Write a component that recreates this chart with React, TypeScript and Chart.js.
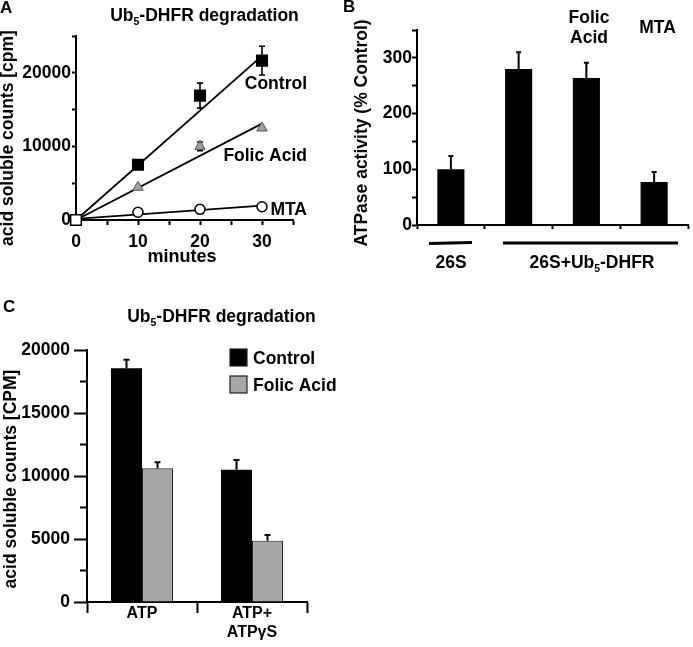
import React, { useEffect, useRef } from "react";
import { Chart, registerables } from "chart.js";

Chart.register(...registerables);

const W = 693;
const H = 647;
const FONT = '"Liberation Sans", Arial, Helvetica, sans-serif';

// ---------- Panel A : Ub5-DHFR degradation time course ----------
const aMinutes = [0, 10, 20, 30];
const aControl = [0, 7500, 16900, 21650];
const aControlErr = [0, 0, 1700, 1950];
const aFolicMinutes = [10, 20, 30];
const aFolic = [4450, 10000, 12500];
const aFolicErr = [0, 600, 0];
const aMtaMinutes = [10, 20, 30];
const aMta = [1050, 1450, 1800];
const aFitMinutes = [0, 30];
const aControlFit = [0, 22300];
const aFolicFit = [0, 13100];
const aMtaFit = [150, 1950];
const aSeries = ["Control", "Folic Acid", "MTA"];

// ---------- Panel B : ATPase activity ----------
const bCategories = ["26S", "26S+Ub5-DHFR", "Folic Acid", "MTA"];
const bActivity = [100, 280, 264, 77];
const bErr = [24, 30, 27, 18];

// ---------- Panel C : degradation with ATP / ATPγS ----------
const cCategories = ["ATP", "ATP+ ATPγS"];
const cSeries = ["Control", "Folic Acid"];
const cControl = [18550, 10500];
const cControlErr = [680, 760];
const cFolic = [10620, 4870];
const cFolicErr = [470, 450];

Chart.defaults.font.family = FONT;
Chart.defaults.font.weight = "bold";
Chart.defaults.font.size = 17;
Chart.defaults.color = "#000";

type Part = { t: string; sub?: boolean };
type TextItem = {
  parts: Part[];
  x: number;
  y: number;
  size?: number;
  align?: "left" | "center" | "right";
  rot?: number;
};

const T = (s: string): Part[] => [{ t: s }];
const UB5 = (before: string, after: string): Part[] => [
  { t: before + "Ub" },
  { t: "5", sub: true },
  { t: after },
];

function drawText(ctx: CanvasRenderingContext2D, it: TextItem) {
  const size = it.size ?? 17.5;
  const subSize = size * 0.6;
  ctx.save();
  ctx.translate(it.x, it.y);
  if (it.rot) ctx.rotate(it.rot);
  ctx.fillStyle = "#000";
  ctx.textBaseline = "alphabetic";
  ctx.textAlign = "left";
  const widths = it.parts.map((p) => {
    ctx.font = `bold ${p.sub ? subSize : size}px ${FONT}`;
    return ctx.measureText(p.t).width;
  });
  const total = widths.reduce((a, b) => a + b, 0);
  let x = it.align === "center" ? -total / 2 : it.align === "right" ? -total : 0;
  it.parts.forEach((p, i) => {
    ctx.font = `bold ${p.sub ? subSize : size}px ${FONT}`;
    ctx.fillText(p.t, x, p.sub ? size * 0.25 : 0);
    x += widths[i];
  });
  ctx.restore();
}

function textPlugin(id: string, items: TextItem[], extra?: (c: Chart) => void) {
  return {
    id,
    afterDraw(chart: Chart) {
      const ctx = chart.ctx;
      items.forEach((it) => drawText(ctx, it));
      if (extra) extra(chart);
    },
  };
}

type ErrSet = { ds: number; err: number[]; both?: boolean; width: number; cap: number };
function errorBars(id: string, sets: ErrSet[], before: boolean) {
  const draw = (chart: Chart) => {
    const ctx = chart.ctx;
    const ys = chart.scales.y;
    ctx.save();
    ctx.strokeStyle = "#000";
    sets.forEach((s) => {
      const meta = chart.getDatasetMeta(s.ds);
      const data = chart.data.datasets[s.ds].data as any[];
      meta.data.forEach((el: any, i: number) => {
        const e = s.err[i];
        if (!e) return;
        const raw = data[i];
        const v = typeof raw === "number" ? raw : raw.y;
        const top = ys.getPixelForValue(v + e);
        const bot = s.both ? ys.getPixelForValue(v - e) : el.y;
        ctx.lineWidth = s.width;
        ctx.beginPath();
        ctx.moveTo(el.x, bot);
        ctx.lineTo(el.x, top);
        ctx.moveTo(el.x - s.cap / 2, top);
        ctx.lineTo(el.x + s.cap / 2, top);
        if (s.both) {
          ctx.moveTo(el.x - s.cap / 2, bot);
          ctx.lineTo(el.x + s.cap / 2, bot);
        }
        ctx.stroke();
      });
    });
    ctx.restore();
  };
  return before ? { id, beforeDatasetsDraw: draw } : { id, afterDatasetsDraw: draw };
}

type Area = { l: number; t: number; r: number; b: number };
function padFor(a: Area, yW: number, xH: number) {
  return { left: a.l - yW, top: a.t, right: W - a.r, bottom: H - a.b - xH };
}

const axisGrid = (tickLength: number, offset = false) => ({
  display: true,
  drawOnChartArea: false,
  drawTicks: true,
  tickLength,
  tickColor: "#000",
  tickWidth: 2,
  offset,
});
const axisBorder = { display: true, color: "#000", width: 2 };

function makeA(canvas: HTMLCanvasElement) {
  const area: Area = { l: 76, t: 36, r: 293, b: 220 };
  const yW = 76;
  const xH = 40;
  const pts = (xs: number[], ys: number[]) => xs.map((x, i) => ({ x, y: ys[i] }));
  return new Chart(canvas, {
    type: "scatter",
    data: {
      datasets: [
        {
          label: aSeries[0],
          data: pts(aMinutes, aControl),
          pointStyle: "rect",
          pointRadius: 7.5,
          pointBackgroundColor: ["#fff", "#000", "#000", "#000"],
          pointBorderColor: "#000",
          pointBorderWidth: 1.5,
          clip: false,
        },
        {
          label: aSeries[1],
          data: pts(aFolicMinutes, aFolic),
          pointStyle: "triangle",
          pointRadius: 6,
          pointBackgroundColor: "#a0a0a0",
          pointBorderColor: "#555",
          pointBorderWidth: 1,
          clip: false,
        },
        {
          label: aSeries[2],
          data: pts(aMtaMinutes, aMta),
          pointStyle: "circle",
          pointRadius: 5,
          pointBackgroundColor: "#fff",
          pointBorderColor: "#000",
          pointBorderWidth: 1.5,
          clip: false,
        },
        {
          label: "Control fit",
          data: pts(aFitMinutes, aControlFit),
          showLine: true,
          pointRadius: 0,
          borderColor: "#000",
          borderWidth: 1.8,
          clip: false,
        },
        {
          label: "Folic Acid fit",
          data: pts(aFitMinutes, aFolicFit),
          showLine: true,
          pointRadius: 0,
          borderColor: "#000",
          borderWidth: 1.8,
          clip: false,
        },
        {
          label: "MTA fit",
          data: pts(aFitMinutes, aMtaFit),
          showLine: true,
          pointRadius: 0,
          borderColor: "#000",
          borderWidth: 1.8,
          clip: false,
        },
      ],
    },
    options: {
      responsive: false,
      animation: false,
      devicePixelRatio: 1,
      layout: { padding: padFor(area, yW, xH) },
      plugins: { legend: { display: false }, tooltip: { enabled: false } },
      scales: {
        x: {
          type: "linear",
          min: 0,
          max: 35,
          ticks: {
            stepSize: 5,
            autoSkip: false,
            maxRotation: 0,
            padding: 7,
            font: { size: 17.5, weight: "bold" },
            callback: (v: any) => (Number(v) % 10 === 0 ? String(v) : ""),
          },
          grid: axisGrid(5),
          border: axisBorder,
          afterFit: (s: any) => {
            s.height = xH;
          },
        },
        y: {
          type: "linear",
          min: 0,
          max: 25000,
          ticks: {
            stepSize: 5000,
            autoSkip: false,
            padding: 1,
            font: { size: 17.5, weight: "bold" },
            callback: (v: any) => (Number(v) % 10000 === 0 ? String(v) : ""),
          },
          grid: axisGrid(4),
          border: axisBorder,
          afterFit: (s: any) => {
            s.width = yW;
          },
        },
      },
    },
    plugins: [
      errorBars(
        "errA",
        [
          { ds: 0, err: aControlErr, both: true, width: 1.6, cap: 6 },
          { ds: 1, err: aFolicErr, both: true, width: 1.6, cap: 6 },
        ],
        true
      ),
      textPlugin("textA", [
        { parts: T("A"), x: 0, y: 12.5, size: 17 },
        { parts: UB5("", "-DHFR degradation"), x: 204.5, y: 21, align: "center" },
        { parts: T(aSeries[0]), x: 307, y: 89, align: "right" },
        { parts: T(aSeries[1]), x: 307, y: 161, align: "right" },
        { parts: T(aSeries[2]), x: 307, y: 215, align: "right" },
        { parts: T("acid soluble counts [cpm]"), x: 13, y: 138, align: "center", rot: -Math.PI / 2, size: 17.5 },
        { parts: T("minutes"), x: 182, y: 262, align: "center", size: 18 },
      ]),
    ],
  } as any);
}

function makeB(canvas: HTMLCanvasElement) {
  const area: Area = { l: 417, t: 30, r: 688, b: 225 };
  const yW = 40;
  const xH = 10;
  return new Chart(canvas, {
    type: "bar",
    data: {
      labels: bCategories,
      datasets: [
        {
          label: "ATPase activity",
          data: bActivity,
          backgroundColor: "#000",
          borderWidth: 0,
          barPercentage: 0.4,
          categoryPercentage: 1,
        },
      ],
    },
    options: {
      responsive: false,
      animation: false,
      devicePixelRatio: 1,
      layout: { padding: padFor(area, yW, xH) },
      plugins: { legend: { display: false }, tooltip: { enabled: false } },
      scales: {
        x: {
          type: "category",
          offset: true,
          ticks: { display: false },
          grid: axisGrid(4, true),
          border: axisBorder,
          afterFit: (s: any) => {
            s.height = xH;
          },
        },
        y: {
          type: "linear",
          min: 0,
          max: 350,
          ticks: {
            stepSize: 50,
            autoSkip: false,
            padding: 0,
            font: { size: 17.5, weight: "bold" },
            callback: (v: any) => (Number(v) % 100 === 0 ? String(v) : ""),
          },
          grid: axisGrid(5),
          border: axisBorder,
          afterFit: (s: any) => {
            s.width = yW;
          },
        },
      },
    },
    plugins: [
      errorBars("errB", [{ ds: 0, err: bErr, width: 2, cap: 5 }], false),
      textPlugin(
        "textB",
        [
          { parts: T("B"), x: 343, y: 11.5, size: 17 },
          { parts: T("Folic"), x: 589, y: 23, align: "center" },
          { parts: T("Acid"), x: 589, y: 43, align: "center" },
          { parts: T(bCategories[3]), x: 657.5, y: 33, align: "center" },
          { parts: T("ATPase activity (% Control)"), x: 367, y: 133, align: "center", rot: -Math.PI / 2, size: 17.5 },
          { parts: T(bCategories[0]), x: 451, y: 268, align: "center" },
          { parts: UB5("26S+", "-DHFR"), x: 592, y: 268, align: "center" },
        ],
        (chart) => {
          const ctx = chart.ctx;
          ctx.save();
          ctx.strokeStyle = "#000";
          ctx.lineWidth = 3;
          ctx.beginPath();
          ctx.moveTo(429, 243.5);
          ctx.lineTo(472, 242.5);
          ctx.moveTo(503, 243);
          ctx.lineTo(678, 243);
          ctx.stroke();
          ctx.restore();
        }
      ),
    ],
  } as any);
}

function makeC(canvas: HTMLCanvasElement) {
  const area: Area = { l: 87, t: 350, r: 307, b: 602 };
  const yW = 70;
  const xH = 45;
  return new Chart(canvas, {
    type: "bar",
    data: {
      labels: cCategories,
      datasets: [
        {
          label: cSeries[0],
          data: cControl,
          backgroundColor: "#000",
          borderColor: "#000",
          borderWidth: 0,
          barPercentage: 1,
          categoryPercentage: 0.564,
        },
        {
          label: cSeries[1],
          data: cFolic,
          backgroundColor: "#a6a6a6",
          borderColor: "#222",
          borderWidth: 1.2,
          barPercentage: 1,
          categoryPercentage: 0.564,
        },
      ],
    },
    options: {
      responsive: false,
      animation: false,
      devicePixelRatio: 1,
      layout: { padding: padFor(area, yW, xH) },
      plugins: { legend: { display: false }, tooltip: { enabled: false } },
      scales: {
        x: {
          type: "category",
          offset: true,
          ticks: {
            padding: -9,
            font: { size: 16, weight: "bold" },
            maxRotation: 0,
            autoSkip: false,
            callback: (_v: any, i: number) => cCategories[i].split(" "),
          },
          grid: axisGrid(11, true),
          border: axisBorder,
          afterFit: (s: any) => {
            s.height = xH;
          },
        },
        y: {
          type: "linear",
          min: 0,
          max: 20000,
          ticks: {
            stepSize: 5000,
            autoSkip: false,
            padding: 4,
            font: { size: 17.5, weight: "bold" },
            callback: (v: any) => String(v),
          },
          grid: axisGrid(13),
          border: axisBorder,
          afterFit: (s: any) => {
            s.width = yW;
          },
        },
      },
    },
    plugins: [
      errorBars(
        "errC",
        [
          { ds: 0, err: cControlErr, width: 2, cap: 6 },
          { ds: 1, err: cFolicErr, width: 2, cap: 6 },
        ],
        false
      ),
      textPlugin(
        "textC",
        [
          { parts: T("C"), x: 3, y: 312, size: 17 },
          { parts: UB5("", "-DHFR degradation"), x: 221.5, y: 322, align: "center" },
          { parts: T("acid soluble counts [CPM]"), x: 16, y: 479, align: "center", rot: -Math.PI / 2, size: 17.5 },
        ],
        (chart) => {
          const ctx = chart.ctx;
          // minor ticks on y axis
          const ys = chart.scales.y as any;
          ctx.save();
          ctx.strokeStyle = "#000";
          ctx.lineWidth = 2;
          ctx.beginPath();
          for (let v = ys.min + 2500; v < ys.max; v += 5000) {
            const y = ys.getPixelForValue(v);
            ctx.moveTo(ys.right - 7, y);
            ctx.lineTo(ys.right, y);
          }
          ctx.stroke();
          // legend
          const boxes = [349, 376];
          chart.data.datasets.forEach((ds: any, i: number) => {
            ctx.fillStyle = ds.backgroundColor;
            ctx.fillRect(230, boxes[i], 17, 17);
            ctx.strokeStyle = "#222";
            ctx.lineWidth = 1.2;
            ctx.strokeRect(230, boxes[i], 17, 17);
            drawText(ctx, { parts: T(ds.label), x: 253, y: boxes[i] + 14.5 });
          });
          ctx.restore();
        }
      ),
    ],
  } as any);
}

export default function App() {
  const refA = useRef<HTMLCanvasElement>(null);
  const refB = useRef<HTMLCanvasElement>(null);
  const refC = useRef<HTMLCanvasElement>(null);

  useEffect(() => {
    document.body.style.margin = "0";
    const charts = [makeA(refA.current!), makeB(refB.current!), makeC(refC.current!)];
    return () => charts.forEach((c) => c.destroy());
  }, []);

  const cs: React.CSSProperties = { position: "absolute", left: 0, top: 0 };
  return (
    <div style={{ position: "absolute", left: 0, top: 0, width: W, height: H, background: "#fff" }}>
      <canvas ref={refA} width={W} height={H} style={cs} />
      <canvas ref={refB} width={W} height={H} style={cs} />
      <canvas ref={refC} width={W} height={H} style={cs} />
    </div>
  );
}
